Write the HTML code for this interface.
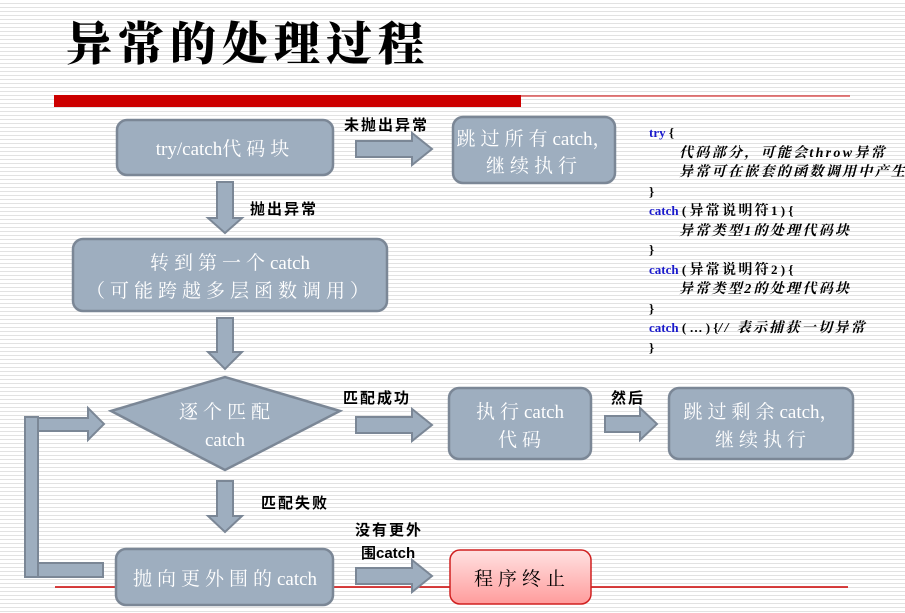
<!DOCTYPE html>
<html><head><meta charset="utf-8"><style>
html,body{margin:0;padding:0;}
body{width:905px;height:613px;overflow:hidden;background:#fff repeating-linear-gradient(to bottom,#fff 0,#fff 3px,#e2e2e2 3px,#e2e2e2 4px);}
svg{position:absolute;left:0;top:0;}
.b{fill:#9eaebf;stroke:#7b8796;stroke-width:2.5;}
.a{fill:#9eaebf;stroke:#7b8796;stroke-width:2;}
.w{fill:#fff;font-family:"Liberation Serif","Noto Serif CJK SC",serif;font-size:19px;text-anchor:middle;}
.s{letter-spacing:5px;}
.l{fill:#000;font-family:"Liberation Sans","Noto Sans CJK SC",sans-serif;font-size:15px;font-weight:bold;letter-spacing:2px;}
.c{font-family:"Liberation Serif","Noto Serif CJK SC",serif;font-size:13px;font-weight:bold;fill:#000;}
.z{font-size:14px;letter-spacing:2.3px;}
.k{fill:#1a1acc;}
.i{font-style:italic;}
</style></head><body>
<svg width="905" height="613" viewBox="0 0 905 613">
<defs><linearGradient id="r" x1="0" y1="0" x2="0" y2="1"><stop offset="0" stop-color="#ffe2e2"/><stop offset="1" stop-color="#ff9c9c"/></linearGradient></defs>
<text x="66" y="60" style="font-family:'Noto Serif CJK SC',serif;font-size:46px;font-weight:900;letter-spacing:6px;" fill="#000">异常的处理过程</text>
<rect x="54" y="95" width="467" height="12" fill="#cc0000"/>
<line x1="521" y1="96" x2="850" y2="96" stroke="#cc0000" stroke-width="1"/>
<line x1="55" y1="587" x2="848" y2="587" stroke="#cc0000" stroke-width="1.5"/>

<rect class="b" x="117" y="120" width="216" height="55" rx="10"/>
<text class="w" x="225" y="155">try/catch<tspan class="s">代码块</tspan></text>
<rect class="b" x="453" y="117" width="162" height="66" rx="10"/>
<text class="w" x="534" y="145"><tspan class="s">跳过所有</tspan>catch，</text>
<text class="w s" x="534" y="172">继续执行</text>
<rect class="b" x="73" y="239" width="314" height="72" rx="10"/>
<text class="w" x="230" y="269"><tspan class="s">转到第一个</tspan>catch</text>
<text class="w s" x="230" y="297">（可能跨越多层函数调用）</text>
<polygon class="b" points="111,411 225,377 340,411 225,470"/>
<text class="w s" x="227" y="418">逐个匹配</text>
<text class="w" x="225" y="446">catch</text>
<rect class="b" x="449" y="388" width="142" height="71" rx="10"/>
<text class="w" x="520" y="418"><tspan class="s">执行</tspan>catch</text>
<text class="w s" x="522" y="446">代码</text>
<rect class="b" x="669" y="388" width="184" height="71" rx="10"/>
<text class="w" x="761" y="418"><tspan class="s">跳过剩余</tspan>catch，</text>
<text class="w s" x="763" y="446">继续执行</text>
<rect class="b" x="116" y="549" width="217" height="56" rx="10"/>
<text class="w" x="225" y="585"><tspan class="s">抛向更外围的</tspan>catch</text>
<rect x="450" y="550" width="141" height="54" rx="10" fill="url(#r)" stroke="#d02020" stroke-width="1.5"/>
<text x="522" y="585" text-anchor="middle" style="font-family:'Noto Serif CJK SC',serif;font-size:19px;letter-spacing:5px;" fill="#000">程序终止</text>

<polygon class="a" points="356,141 412,141 412,133 432,149 412,165 412,157 356,157"/>
<polygon class="a" points="356,417 412,417 412,409 432,425 412,441 412,433 356,433"/>
<polygon class="a" points="605,416 640,416 640,408 657,424 640,440 640,432 605,432"/>
<polygon class="a" points="356,568 412,568 412,560 432,576 412,592 412,584 356,584"/>
<polygon class="a" points="217,182 233,182 233,218 242,218 225,233 208,218 217,218"/>
<polygon class="a" points="217,318 233,318 233,352 242,352 225,369 208,352 217,352"/>
<polygon class="a" points="217,481 233,481 233,516 242,516 225,532 208,516 217,516"/>
<rect class="a" x="25" y="417" width="13" height="160"/>
<polygon class="a" points="38,418 88,418 88,408 104,424 88,440 88,431 38,431"/>
<rect class="a" x="38" y="563" width="65" height="14"/>

<text class="l" x="344" y="130">未抛出异常</text>
<text class="l" x="250" y="214">抛出异常</text>
<text class="l" x="343" y="403">匹配成功</text>
<text class="l" x="611" y="403">然后</text>
<text class="l" x="261" y="508">匹配失败</text>
<text class="l" x="355" y="535">没有更外</text>
<text class="l" x="361" y="558" style="letter-spacing:0">围catch</text>

<text class="c" x="649" y="137"><tspan class="k">try</tspan> {</text>
<text class="c i z" x="679" y="157">代码部分，可能会throw异常</text>
<text class="c i z" x="679" y="176">异常可在嵌套的函数调用中产生</text>
<text class="c" x="649" y="196">}</text>
<text class="c" x="649" y="215"><tspan class="k">catch</tspan> ( <tspan class="z">异常说明符</tspan>1 ) {</text>
<text class="c i z" x="679" y="235">异常类型1的处理代码块</text>
<text class="c" x="649" y="254">}</text>
<text class="c" x="649" y="274"><tspan class="k">catch</tspan> ( <tspan class="z">异常说明符</tspan>2 ) {</text>
<text class="c i z" x="679" y="293">异常类型2的处理代码块</text>
<text class="c" x="649" y="313">}</text>
<text class="c" x="649" y="332"><tspan class="k">catch</tspan> ( … ) {<tspan class="i z">// 表示捕获一切异常</tspan></text>
<text class="c" x="649" y="352">}</text>
</svg>
</body></html>
